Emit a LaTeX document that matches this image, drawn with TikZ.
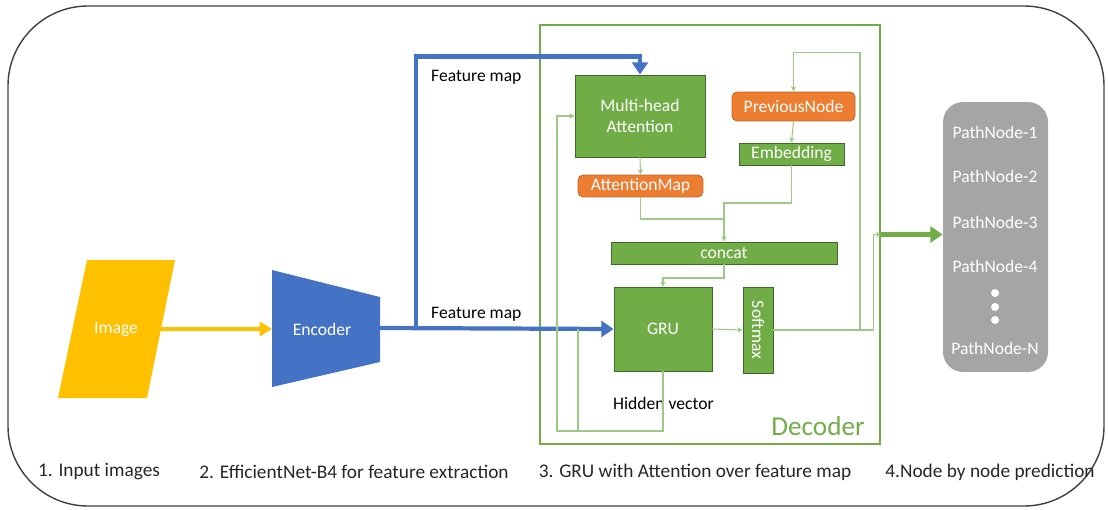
\documentclass[tikz,border=0pt]{standalone}
\usepackage{fontspec}
\setmainfont{Carlito}
\usepackage{graphicx}
\usetikzlibrary{arrows.meta,calc}
\definecolor{gold}{HTML}{FFC000}
\definecolor{encblue}{HTML}{4472C4}
\definecolor{decgreen}{HTML}{70AD47}
\definecolor{darkgreen}{HTML}{3F6B2A}
\definecolor{thingreen}{HTML}{9CC986}
\definecolor{maporange}{HTML}{ED7D31}
\definecolor{pathgray}{HTML}{A5A5A5}
\begin{document}
\begin{tikzpicture}[x=0.02cm,y=-0.02cm,
    txt/.style={font=\fontsize{10}{12}\selectfont},
    gbox/.style={txt,draw=darkgreen,line width=0.5pt,fill=decgreen,text=white,inner sep=0pt,align=center},
    obox/.style={txt,draw=maporange!80!black,line width=0.5pt,fill=maporange,text=white,inner sep=0pt,rounded corners=3pt},
    fl/.style={thingreen,line width=0.6pt},
    fla/.style={fl,-{Stealth[length=3pt,width=3pt]}},
    blueline/.style={encblue,line width=2.4pt},
    caption/.style={font=\fontsize{11}{13}\selectfont,text=black!85}]
  \useasboundingbox (0,0) rectangle (1108,510);
  % outer frame
  \draw[black!75,line width=0.8pt,rounded corners=1.6cm] (8,6) rectangle (1104,506);

  % input image and encoder
  \fill[gold] (87,260) -- (175,260) -- (147,398) -- (58,398) -- cycle;
  \node[txt,text=white] (img) at (116,329) {Image};
  \coordinate (imgR) at (161,329);
  \fill[encblue] (272,270) -- (380,297) -- (380,362) -- (272,387) -- cycle;
  \node[txt,text=white] (enc) at (322,329) {Encoder};
  \coordinate (encL) at (272,329);
  \coordinate (encR) at (380,328);
  \draw[gold,line width=1.8pt,-{Triangle[length=7pt,width=8pt]}] (imgR) -- (encL);

  % decoder
  \node[draw=decgreen,line width=1.3pt,minimum width=6.8cm,minimum height=8.38cm,inner sep=0pt] (dec) at (710,234.5) {};
  \node[font=\fontsize{15.5}{18}\selectfont,text=decgreen] (declbl) at (818,426) {Decoder};
  \node[gbox,minimum width=2.6cm,minimum height=1.64cm] (mha) at (640,116) {Multi-head\\Attention};
  \node[obox,minimum width=2.5cm,minimum height=0.44cm] (attmap) at (640.5,186) {AttentionMap};
  \node[obox,minimum width=2.46cm,minimum height=0.58cm] (prev) at (793.5,106.5) {PreviousNode};
  \node[gbox,minimum width=2.1cm,minimum height=0.44cm] (emb) at (791.5,154) {Embedding};
  \node[gbox,minimum width=4.52cm,minimum height=0.44cm] (concat) at (724,253) {concat};
  \node[gbox,minimum width=1.96cm,minimum height=1.68cm] (gru) at (663,329) {GRU};
  \node[gbox,minimum width=0.6cm,minimum height=1.72cm] (soft) at (758,330) {\rotatebox{-90}{Softmax}};
  \node[txt,anchor=west] (hid) at (607,403) {Hidden vector};

  % feature maps
  \coordinate (split) at (416,328);
  \draw[blueline,-{Triangle[length=7pt,width=9pt]}] (encR) -- (gru.west);
  \draw[blueline,-{Triangle[length=7pt,width=9pt]}] (split) |- ($(mha.north)+(0,-18)$) -- (mha.north);
  \node[txt,anchor=west] (fm1) at (425,77) {Feature map};
  \node[txt,anchor=west] (fm2) at (425,314) {Feature map};

  % decoder wiring
  \coordinate (mrg) at (724,219);
  \coordinate (cg) at (724,278);
  \coordinate (fb) at (557,431);
  \coordinate (hb) at (578,431);
  \coordinate (lp) at (860,330);
  \coordinate (up) at ($(dec.east)+(-8,0)$);
  \draw[fla] (mha.south) -- (attmap.north);
  \draw[fla] (prev.south) -- (emb.north);
  \draw[fl] (attmap.south) |- (mrg);
  \draw[fla] (emb.south) |- ($(mrg)+(0,-16)$) -- (concat.north);
  \draw[fla] (concat.south) -- (cg) -| (gru.north);
  \draw[fla] (gru.east) -- (soft.west);
  \draw[fla] (gru.south) |- (fb) |- (mha.west);
  \draw[fl] (hb) -- (hb |- gru.west);
  \draw[fla] (soft.east) -| (up) -- (dec.east);
  \draw[fla] (lp) |- ($(prev.north)+(0,-39)$) -- (prev.north);

  % predictions
  \node[fill=pathgray,rounded corners=0.4cm,minimum width=2.1cm,minimum height=5.4cm] (path) at (995.5,237) {};
  \foreach \i/\y in {1/132,2/176,3/222,4/266}
    \node[txt,text=white] (pn\i) at (995,\y) {PathNode-\i};
  \node[txt,text=white] (pnN) at (995,348) {PathNode-N};
  \foreach \y in {293,307,320}
    \fill[white] (995,\y) circle (4);
  \draw[decgreen,line width=2.4pt,-{Triangle[length=7pt,width=9pt]}] (dec.east) -- (dec.east -| path.west);

  % captions
  \node[caption] (cap1) at (99,472) {1. Input images};
  \node[caption] (cap2) at (354,472) {2. EfficientNet-B4 for feature extraction};
  \node[caption] (cap3) at (695,472) {3. GRU with Attention over feature map};
  \node[caption] (cap4) at (990,472) {4.Node by node prediction};
\end{tikzpicture}
\end{document}
